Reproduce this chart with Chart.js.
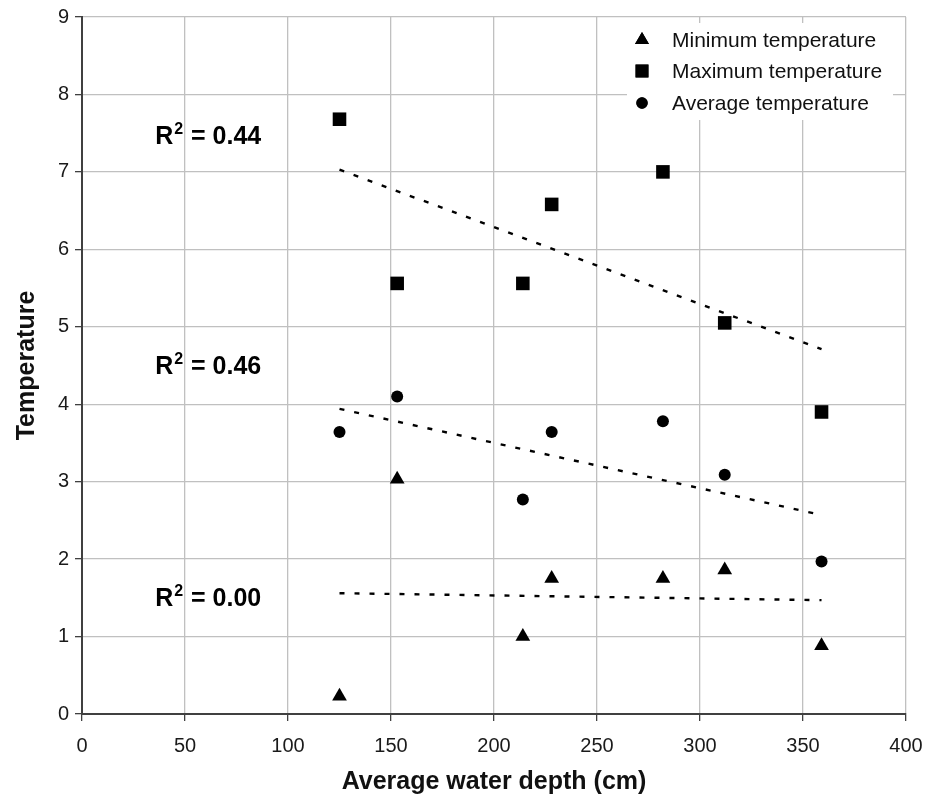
<!DOCTYPE html>
<html>
<head>
<meta charset="utf-8">
<script src="https://cdn.jsdelivr.net/npm/chart.js@4/dist/chart.umd.min.js"></script>
<style>
  html, body { margin: 0; padding: 0; background: #ffffff; }
  #wrap { width: 925px; height: 801px; }
</style>
</head>
<body>
<div id="wrap"><canvas id="c" width="925" height="801"></canvas></div>
<script>
// ---- data ----
const depth   = [125, 153, 214, 228, 282, 312, 359];
const minTemp = [0.23, 3.03, 1.00, 1.75, 1.75, 1.86, 0.88];
const maxTemp = [7.68, 5.56, 5.56, 6.58, 7.00, 5.05, 3.90];
const avgTemp = [3.64, 4.10, 2.77, 3.64, 3.78, 3.09, 1.97];

// trend line end points
const trendX   = [125, 359];
const trendMax = [7.03, 4.71];
const trendAvg = [3.94, 2.57];
const trendMin = [1.56, 1.47];

// R² annotations: text value and anchor (data units)
const r2Text = ['0.44', '0.46', '0.00'];
const r2X    = [35.5, 35.5, 35.5];
const r2Y    = [7.36, 4.39, 1.39];

const seriesNames = ['Minimum temperature', 'Maximum temperature', 'Average temperature'];
const xTicks = [0, 50, 100, 150, 200, 250, 300, 350, 400];
const yTicks = [0, 1, 2, 3, 4, 5, 6, 7, 8, 9];

const pts = (xs, ys) => xs.map((x, i) => ({ x: x, y: ys[i] }));

const FONT = "'Liberation Sans', Arial, sans-serif";

const pointStyles = ['triangle', 'rect', 'circle'];
const pointRadii  = [8.5, 9.6, 6];

const annotationPlugin = {
  id: 'r2labels',
  afterDatasetsDraw(chart) {
    const ctx = chart.ctx;
    const xs = chart.scales.x, ys = chart.scales.y;
    ctx.save();
    ctx.fillStyle = '#000';
    ctx.textBaseline = 'alphabetic';
    ctx.textAlign = 'left';
    for (let i = 0; i < r2Text.length; i++) {
      let px = xs.getPixelForValue(r2X[i]);
      const py = ys.getPixelForValue(r2Y[i]);
      ctx.font = "bold 25px " + FONT;
      ctx.fillText('R', px, py);
      px += ctx.measureText('R').width + 1;
      ctx.font = "bold 16px " + FONT;
      ctx.fillText('2', px, py - 10);
      px += ctx.measureText('2').width + 1;
      ctx.font = "bold 25px " + FONT;
      ctx.fillText(' = ' + r2Text[i], px, py);
    }
    ctx.restore();
  }
};

const legendPlugin = {
  id: 'customLegend',
  afterDraw(chart) {
    const ctx = chart.ctx;
    ctx.save();
    ctx.fillStyle = '#ffffff';
    ctx.fillRect(627, 23, 266, 97);
    const rows = [40, 71, 103];
    for (let i = 0; i < 3; i++) {
      const opts = {
        pointStyle: pointStyles[i],
        radius: pointRadii[i] * 0.95,
        rotation: 0,
        borderWidth: 0
      };
      ctx.fillStyle = '#000';
      ctx.strokeStyle = '#000';
      ctx.lineWidth = 0.01;
      Chart.helpers.drawPoint(ctx, opts, 642, rows[i]);
      ctx.fill();
      ctx.font = "21px " + FONT;
      ctx.fillStyle = '#111';
      ctx.textBaseline = 'middle';
      ctx.textAlign = 'left';
      ctx.fillText(seriesNames[i], 672, rows[i] + 1);
    }
    ctx.restore();
  }
};

const makePointSet = (label, ys, idx) => ({
  type: 'scatter',
  label: label,
  data: pts(depth, ys),
  pointStyle: pointStyles[idx],
  pointRadius: pointRadii[idx],
  backgroundColor: '#000',
  borderColor: '#000',
  borderWidth: 0,
  showLine: false
});

const makeTrend = (ys) => ({
  type: 'line',
  label: 'trend',
  data: pts(trendX, ys),
  borderColor: '#000',
  borderWidth: 2.4,
  borderDash: [5, 10],
  pointRadius: 0,
  fill: false,
  tension: 0
});

new Chart(document.getElementById('c'), {
  type: 'scatter',
  data: {
    datasets: [
      makePointSet(seriesNames[0], minTemp, 0),
      makePointSet(seriesNames[1], maxTemp, 1),
      makePointSet(seriesNames[2], avgTemp, 2),
      makeTrend(trendMax),
      makeTrend(trendAvg),
      makeTrend(trendMin)
    ]
  },
  options: {
    responsive: false,
    animation: false,
    devicePixelRatio: 1,
    layout: { padding: { left: 0, right: 19, top: 17, bottom: 0 } },
    plugins: {
      legend: { display: false },
      tooltip: { enabled: false },
      title: { display: false }
    },
    scales: {
      x: {
        type: 'linear',
        min: 0, max: 400,
        afterBuildTicks(scale) { scale.ticks = xTicks.map(v => ({ value: v })); },
        afterFit(scale) { scale.height = 87; scale.paddingLeft = 0; scale.paddingRight = 0; },
        grid: { color: '#c0c0c0', lineWidth: 1.3, tickColor: '#404040', tickLength: 7, drawTicks: true },
        border: { color: '#404040', width: 2 },
        ticks: { color: '#1a1a1a', font: { family: FONT, size: 20 }, padding: 13, maxRotation: 0 },
        title: { display: true, text: 'Average water depth (cm)', color: '#111',
                 font: { family: FONT, size: 25, weight: 'bold' }, padding: { top: 0, bottom: 4 } }
      },
      y: {
        type: 'linear',
        min: 0, max: 9,
        afterBuildTicks(scale) { scale.ticks = yTicks.map(v => ({ value: v })); },
        afterFit(scale) { scale.width = 82; scale.paddingTop = 0; scale.paddingBottom = 0; },
        grid: { color: '#c0c0c0', lineWidth: 1.3, tickColor: '#404040', tickLength: 7, drawTicks: true },
        border: { color: '#404040', width: 2 },
        ticks: { color: '#1a1a1a', font: { family: FONT, size: 20 }, padding: 6 },
        title: { display: true, text: 'Temperature', color: '#111',
                 font: { family: FONT, size: 25, weight: 'bold' }, padding: { top: 12, bottom: 0 } }
      }
    }
  },
  plugins: [annotationPlugin, legendPlugin]
});
</script>
</body>
</html>
